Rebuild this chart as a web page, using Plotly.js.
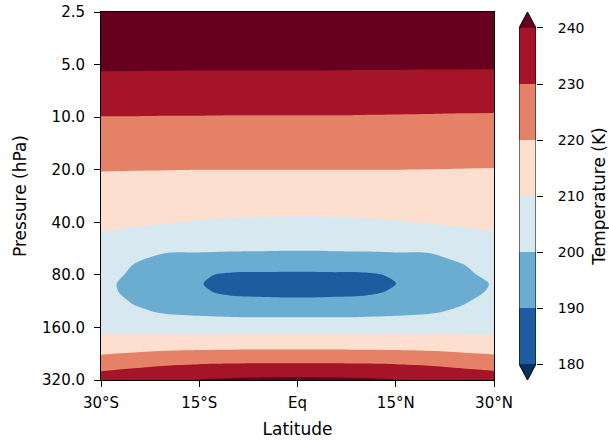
<!DOCTYPE html>
<html>
<head>
<meta charset="utf-8">
<script src="https://cdn.plot.ly/plotly-3.0.1.min.js"></script>
<style>
  html, body { margin: 0; padding: 0; background: #fff; }
  #chart { width: 609px; height: 443px; }
</style>
</head>
<body>
<div id="chart"></div>
<script>
// Zonal-mean temperature (K) on latitude / pressure levels
const latitudes = [-30, -25, -20, -15, -10, -5, 0, 5, 10, 15, 20, 25, 30];
const pressures = [2.5, 3.5, 5, 7, 10, 14, 20, 28, 40, 50, 60, 70, 80, 90, 100,
                   115, 130, 150, 175, 200, 230, 260, 290, 320];

// one row per pressure level, one column per latitude
const temperature = [
  [252.8, 252.9, 253.0, 253.0, 253.0, 253.0, 253.0, 253.0, 253.0, 253.0, 252.9, 252.8, 252.6],
  [247.4, 247.4, 247.4, 247.3, 247.3, 247.3, 247.3, 247.3, 247.3, 247.2, 247.2, 247.1, 247.0],
  [241.6, 241.5, 241.4, 241.3, 241.3, 241.3, 241.3, 241.3, 241.2, 241.2, 241.1, 241.05, 241.0],
  [235.5, 235.5, 235.5, 235.6, 235.6, 235.6, 235.6, 235.6, 235.6, 235.6, 235.5, 235.5, 235.5],
  [229.8, 229.8, 229.7, 229.7, 229.6, 229.6, 229.6, 229.6, 229.5, 229.4, 229.3, 229.1, 229.0],
  [225.2, 225.1, 225.1, 225.0, 225.0, 225.0, 225.0, 225.0, 225.0, 224.9, 224.9, 224.8, 224.8],
  [220.3, 220.2, 220.1, 220.0, 220.0, 220.0, 220.0, 220.0, 220.0, 220.0, 219.9, 219.8, 219.7],
  [215.9, 215.7, 215.4, 215.1, 214.9, 214.75, 214.7, 214.75, 214.9, 215.1, 215.4, 215.7, 215.9],
  [211.5, 210.9, 210.3, 209.6, 209.0, 208.8, 208.75, 208.8, 209.0, 209.6, 210.3, 210.9, 211.4],
  [208.9, 207.8, 206.0, 204.5, 204.0, 203.8, 203.75, 203.8, 204.0, 204.5, 206.0, 207.6, 208.6],
  [206.8, 203.5, 199.9, 199.8, 199.5, 199.4, 199.3, 199.4, 199.5, 199.8, 199.9, 203.3, 205.8],
  [205.1, 199.8, 196.5, 195.5, 193.8, 193.5, 193.3, 193.5, 193.8, 195.5, 196.5, 199.6, 203.8],
  [203.6, 198.5, 194.5, 191.0, 188.8, 188.7, 188.6, 188.7, 188.8, 190.8, 194.3, 198.2, 202.0],
  [202.3, 197.5, 193.7, 190.4, 187.3, 186.3, 186.0, 186.3, 187.3, 189.9, 193.5, 197.3, 200.5],
  [202.5, 197.8, 194.3, 191.0, 188.5, 188.4, 188.2, 188.4, 188.5, 190.8, 194.1, 197.6, 201.0],
  [204.2, 199.5, 196.0, 194.5, 192.5, 191.7, 191.5, 191.7, 192.5, 194.3, 195.8, 199.3, 202.8],
  [205.8, 201.5, 199.0, 198.0, 197.2, 196.9, 196.8, 196.9, 197.2, 198.0, 199.0, 201.3, 204.8],
  [207.6, 205.5, 203.8, 203.3, 203.0, 202.9, 202.9, 202.9, 203.0, 203.3, 203.8, 205.3, 207.0],
  [210.1, 210.1, 210.1, 210.1, 210.1, 210.1, 210.1, 210.1, 210.1, 210.1, 210.1, 210.1, 210.0],
  [215.0, 215.5, 216.0, 216.2, 216.3, 216.4, 216.4, 216.4, 216.3, 216.2, 216.0, 215.5, 215.1],
  [220.1, 221.3, 222.6, 223.3, 223.6, 223.8, 223.8, 223.8, 223.6, 223.3, 222.6, 221.3, 220.2],
  [225.8, 227.5, 229.0, 230.0, 230.5, 230.8, 230.8, 230.8, 230.5, 230.0, 229.0, 227.5, 226.0],
  [230.8, 232.6, 234.5, 235.6, 236.3, 236.7, 236.8, 236.7, 236.3, 235.6, 234.5, 232.6, 231.0],
  [235.3, 237.5, 239.6, 240.4, 241.3, 242.0, 242.3, 242.0, 241.3, 240.4, 239.9, 237.8, 235.5]
];

// contour levels and the fill colour of each band (below first level ... above last level)
const levels = [180, 190, 200, 210, 220, 230, 240];
const bandColors = ['#053061', '#1c5c9f', '#6bacd1', '#d7e8f1', '#fcdfcf', '#e48166', '#a51429', '#67001f'];

const pressureTicks = [2.5, 5, 10, 20, 40, 80, 160, 320];
const pressureTickText = ['2.5', '5.0', '10.0', '20.0', '40.0', '80.0', '160.0', '320.0'];
const latTicks = [-30, -15, 0, 15, 30];
const latTickText = ['30°S', '15°S', 'Eq', '15°N', '30°N'];

const FONT = 'DejaVu Sans';
const step = levels[1] - levels[0];
const lo = levels[0];
const hi = levels[levels.length - 1];
const extendFrac = 0.0476;               // length of each end triangle relative to the bar
const ext = (hi - lo) * extendFrac;

// discrete colour scale: band i sits exactly at stop i/(n-1)
const colorscale = bandColors.map((c, i) => [i / (bandColors.length - 1), c]);

const contourTrace = {
  type: 'contour',
  x: latitudes,
  y: pressures,
  z: temperature,
  autocontour: false,
  contours: { start: lo, end: hi, size: step, coloring: 'fill', showlines: false },
  colorscale: colorscale,
  showscale: false,
  line: { width: 0, smoothing: 0.8 },
  hoverinfo: 'skip'
};

// colour bar drawn as stacked bars plus the two extension triangles
const bandBases = levels.slice(0, -1);
const barTrace = {
  type: 'bar',
  x: bandBases.map(() => 0),
  y: bandBases.map(() => step),
  base: bandBases,
  width: 1,
  marker: { color: bandColors.slice(1, -1), line: { width: 0 } },
  xaxis: 'x2', yaxis: 'y2',
  hoverinfo: 'skip'
};
const lowTri = {
  type: 'scatter', mode: 'lines', fill: 'toself',
  x: [-0.5, 0.5, 0, -0.5], y: [lo, lo, lo - ext, lo],
  fillcolor: bandColors[0], line: { width: 0 },
  xaxis: 'x2', yaxis: 'y2', hoverinfo: 'skip'
};
const highTri = {
  type: 'scatter', mode: 'lines', fill: 'toself',
  x: [-0.5, 0.5, 0, -0.5], y: [hi, hi, hi + ext, hi],
  fillcolor: bandColors[bandColors.length - 1], line: { width: 0 },
  xaxis: 'x2', yaxis: 'y2', hoverinfo: 'skip'
};
const outline = {
  type: 'scatter', mode: 'lines',
  x: [-0.5, 0, 0.5, 0.5, 0, -0.5, -0.5],
  y: [lo, lo - ext, lo, hi, hi + ext, hi, lo],
  line: { color: '#000', width: 1 },
  xaxis: 'x2', yaxis: 'y2', hoverinfo: 'skip'
};

const W = 609, H = 443;
const M = { l: 101, r: 0, t: 12, b: 63 };
const plotW = W - M.l - M.r;
const px = v => (v - M.l) / plotW;

const layout = {
  width: W, height: H,
  margin: M,
  paper_bgcolor: '#fff', plot_bgcolor: '#fff',
  font: { family: FONT, size: 14, color: '#000' },
  showlegend: false,
  hovermode: false,
  xaxis: {
    domain: [0, px(494)],
    range: [-30, 30],
    tickvals: latTicks, ticktext: latTickText,
    tickfont: { size: 15 },
    ticks: 'outside', ticklen: 6, tickwidth: 1, tickcolor: '#000',
    ticklabelstandoff: 3,
    showline: true, mirror: true, linecolor: '#000', linewidth: 1,
    showgrid: false, zeroline: false,
    title: { text: 'Latitude', standoff: 12 }
  },
  yaxis: {
    type: 'log',
    range: [Math.log10(320), Math.log10(2.5)],
    tickvals: pressureTicks, ticktext: pressureTickText,
    tickfont: { size: 15 },
    ticks: 'outside', ticklen: 6, tickwidth: 1, tickcolor: '#000',
    ticklabelstandoff: 6,
    showline: true, mirror: true, linecolor: '#000', linewidth: 1,
    showgrid: false, zeroline: false,
    title: { text: 'Pressure (hPa)', standoff: 11 }
  },
  xaxis2: {
    domain: [px(519), px(536)],
    range: [-0.5, 0.5],
    anchor: 'y2',
    visible: false, fixedrange: true
  },
  yaxis2: {
    domain: [0, 1],
    anchor: 'x2', side: 'right',
    range: [lo - ext, hi + ext],
    tickvals: levels,
    ticks: 'outside', ticklen: 6, tickwidth: 1, tickcolor: '#000',
    ticklabelstandoff: 12,
    showline: false, showgrid: false, zeroline: false,
    title: { text: 'Temperature (K)', standoff: 13 }
  }
};

Plotly.newPlot('chart', [contourTrace, barTrace, lowTri, highTri, outline], layout,
  { displayModeBar: false, staticPlot: true });
</script>
</body>
</html>
